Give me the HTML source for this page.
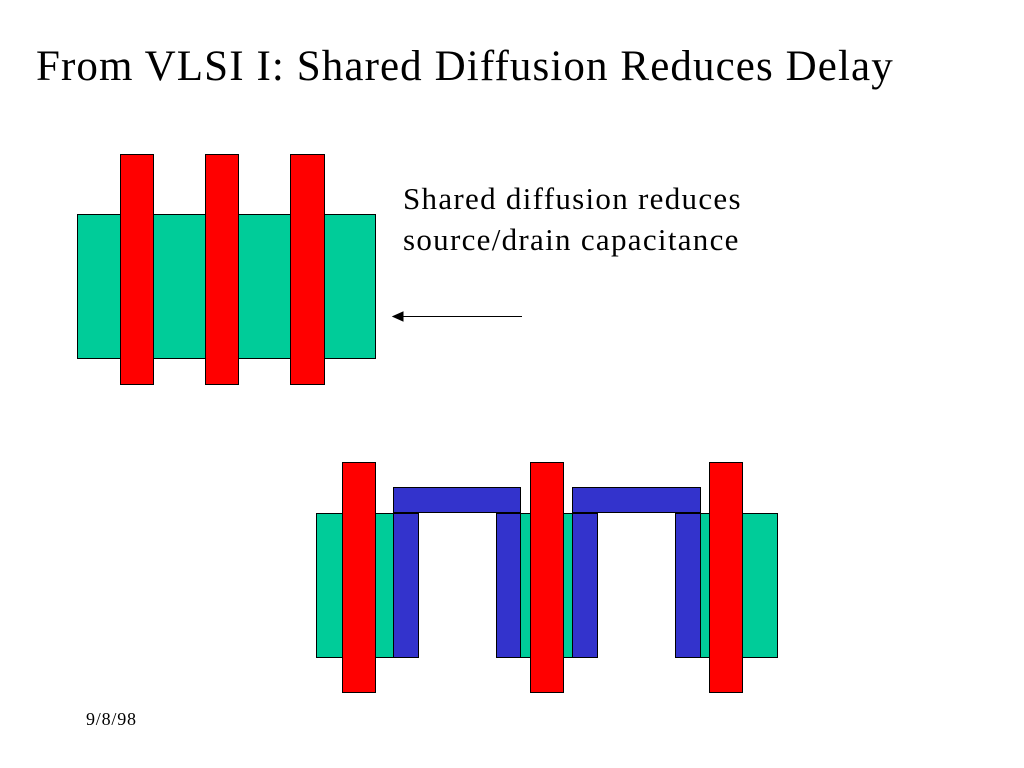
<!DOCTYPE html>
<html><head><style>
body{margin:0;background:#fff;width:1024px;height:768px;overflow:hidden;position:relative;font-family:"Liberation Serif",serif}
.t{position:absolute;white-space:nowrap;color:#000}
</style></head><body>
<div class="t" style="left:36px;top:42px;font-size:43px;line-height:50px;letter-spacing:1.1px">From VLSI I: Shared Diffusion Reduces Delay</div>
<div class="t" style="left:403px;top:178px;font-size:31px;line-height:41px;letter-spacing:1.3px">Shared diffusion reduces<br>source/drain capacitance</div>
<div class="t" style="left:86px;top:709px;font-size:18px;letter-spacing:0.8px">9/8/98</div>
<svg width="1024" height="768" style="position:absolute;left:0;top:0" stroke="#000" stroke-width="1">
<rect x="77.5" y="214.5" width="298" height="144" fill="#00cc99"/>
<rect x="120.5" y="154.5" width="33" height="230" fill="#f00"/>
<rect x="205.5" y="154.5" width="33" height="230" fill="#f00"/>
<rect x="290.5" y="154.5" width="34" height="230" fill="#f00"/>
<line x1="400" y1="316.5" x2="522" y2="316.5"/>
<polygon points="393,316.5 403,312 403,321" fill="#000"/>
<rect x="316.5" y="513.5" width="90" height="144" fill="#00cc99"/>
<rect x="505.5" y="513.5" width="80" height="144" fill="#00cc99"/>
<rect x="685.5" y="513.5" width="92" height="144" fill="#00cc99"/>
<rect x="393.5" y="487.5" width="127" height="25" fill="#3333cc"/>
<rect x="572.5" y="487.5" width="128" height="25" fill="#3333cc"/>
<rect x="393.5" y="513.5" width="25" height="144" fill="#3333cc"/>
<rect x="496.5" y="513.5" width="24" height="144" fill="#3333cc"/>
<rect x="572.5" y="513.5" width="25" height="144" fill="#3333cc"/>
<rect x="675.5" y="513.5" width="25" height="144" fill="#3333cc"/>
<rect x="342.5" y="462.5" width="33" height="230" fill="#f00"/>
<rect x="530.5" y="462.5" width="33" height="230" fill="#f00"/>
<rect x="709.5" y="462.5" width="33" height="230" fill="#f00"/>
</svg>
</body></html>
